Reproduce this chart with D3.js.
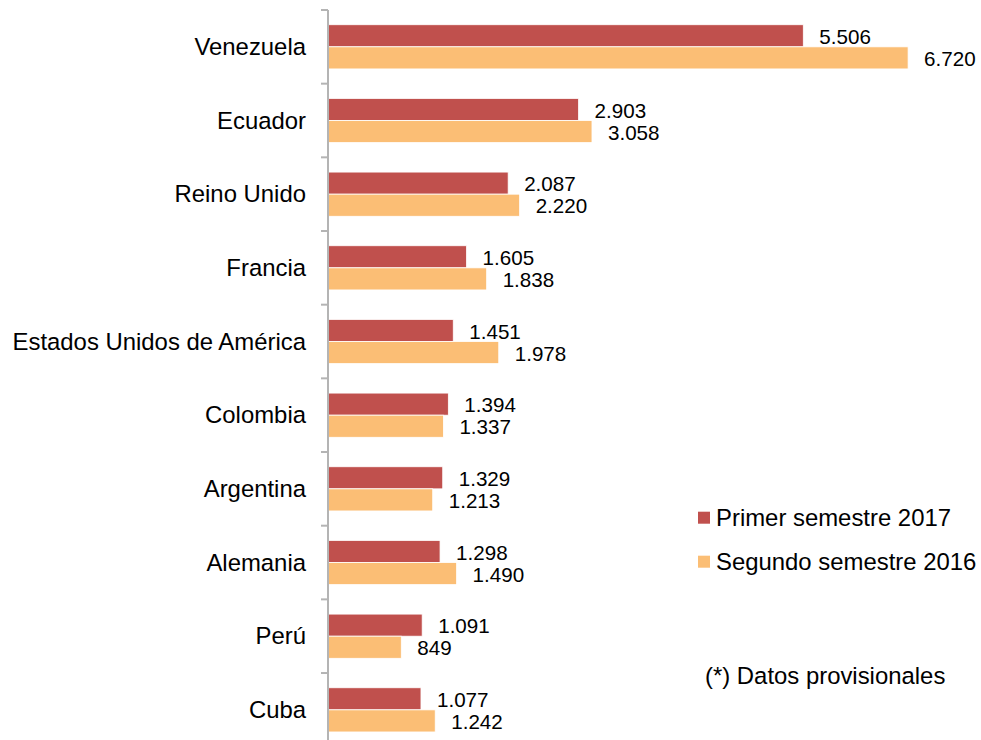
<!DOCTYPE html>
<html>
<head>
<meta charset="utf-8">
<script src="https://cdn.jsdelivr.net/npm/d3@7"></script>
<style>
  body { margin: 0; background: #fff; }
  text { font-family: "Liberation Sans", Arial, sans-serif; fill: #000; }
</style>
</head>
<body>
<svg id="chart" width="981" height="740"></svg>
<script>
// data
var countries = ["Venezuela", "Ecuador", "Reino Unido", "Francia", "Estados Unidos de América",
                 "Colombia", "Argentina", "Alemania", "Perú", "Cuba"];
var primer2017 = [5506, 2903, 2087, 1605, 1451, 1394, 1329, 1298, 1091, 1077];
var segundo2016 = [6720, 3058, 2220, 1838, 1978, 1337, 1213, 1490, 849, 1242];
var seriesNames = ["Primer semestre 2017", "Segundo semestre 2016"];
var seriesColors = ["#C0504D", "#FBBE75"];
var note = "(*) Datos provisionales";

var svg = d3.select("#chart");

var esLocale = d3.formatLocale({decimal: ",", thousands: ".", grouping: [3], currency: ["", ""]});
var fmt = esLocale.format(",d");

var x0 = 328;
var x = d3.scaleLinear().domain([0, 5506]).range([x0, 803.3]);

var y = d3.scaleBand().domain(countries).range([10, 746.7])
    .paddingInner(0.4).paddingOuter(0.2);

var ySub = d3.scaleBand().domain([0, 1]).range([0, y.bandwidth()]);

var rows = countries.map(function (c, i) {
    return {country: c, values: [primer2017[i], segundo2016[i]]};
});

// bars
var groups = svg.append("g").selectAll("g.row")
    .data(rows)
    .enter().append("g").classed("row", true)
    .attr("transform", function (d) { return "translate(0," + y(d.country) + ")"; });

groups.selectAll("rect")
    .data(function (d) { return d.values; })
    .enter().append("rect")
    .attr("x", x0)
    .attr("y", function (d, i) { return ySub(i); })
    .attr("width", function (d) { return x(d) - x0; })
    .attr("height", ySub.bandwidth())
    .attr("fill", function (d, i) { return seriesColors[i]; })
    .attr("stroke", "#fff")
    .attr("stroke-width", 0.8);

groups.selectAll("text.val")
    .data(function (d) { return d.values; })
    .enter().append("text").classed("val", true)
    .attr("x", function (d) { return x(d) + 16; })
    .attr("y", function (d, i) { return ySub(i) + ySub.bandwidth() / 2; })
    .attr("dy", "0.4em")
    .style("font-size", "20.6px")
    .text(function (d) { return fmt(d); });

// axis line + ticks at category boundaries
var axis = svg.append("g");
var step = y.step();
var bounds = countries.map(function (c) { return y(c) - y.paddingInner() * step / 2; });
bounds.push(bounds[bounds.length - 1] + step);

axis.append("line")
    .attr("x1", x0).attr("x2", x0)
    .attr("y1", bounds[0]).attr("y2", bounds[bounds.length - 1])
    .attr("stroke", "#b4b4b4").attr("stroke-width", 2);

axis.selectAll("line.tick")
    .data(bounds)
    .enter().append("line").classed("tick", true)
    .attr("x1", x0 - 7).attr("x2", x0)
    .attr("y1", function (d) { return d; }).attr("y2", function (d) { return d; })
    .attr("stroke", "#b4b4b4").attr("stroke-width", 2);

axis.selectAll("text.cat")
    .data(countries)
    .enter().append("text").classed("cat", true)
    .attr("x", 306)
    .attr("y", function (d) { return y(d) + y.bandwidth() / 2; })
    .attr("dy", "0.34em")
    .attr("text-anchor", "end")
    .style("font-size", "23.9px")
    .text(function (d) { return d; });

// legend
var legend = svg.append("g").attr("transform", "translate(698,0)");
var leg = legend.selectAll("g")
    .data(seriesNames)
    .enter().append("g")
    .attr("transform", function (d, i) { return "translate(0," + (511.7 + i * 44) + ")"; });

leg.append("rect")
    .attr("width", 12).attr("height", 12)
    .attr("fill", function (d, i) { return seriesColors[i]; });

leg.append("text")
    .attr("x", 18).attr("y", 6)
    .attr("dy", "0.36em")
    .style("font-size", "23.9px")
    .text(function (d) { return d; });

svg.append("text")
    .attr("x", 705).attr("y", 684)
    .style("font-size", "23.9px")
    .text(note);
</script>
</body>
</html>
